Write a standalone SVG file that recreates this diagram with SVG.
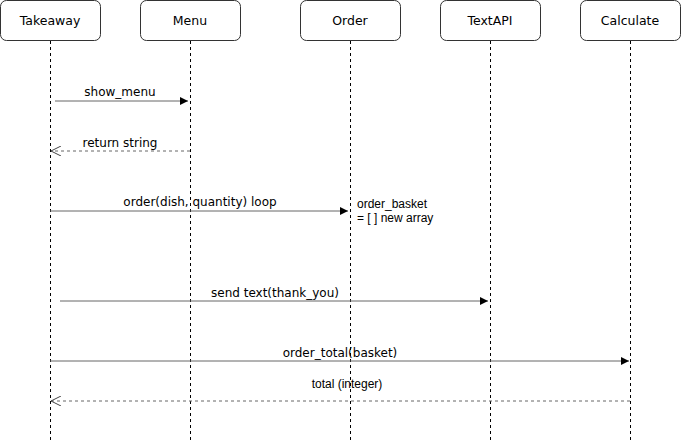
<svg xmlns="http://www.w3.org/2000/svg" width="682" height="441" viewBox="0 0 682 441">
<style>
.box{fill:#fff;stroke:#333;stroke-width:1}
.lbl{font-family:"DejaVu Sans",Verdana,sans-serif;font-size:12px;fill:#000;text-anchor:middle}
.ttl{font-size:12.5px}
.hl{font-family:"Liberation Sans",Arial,sans-serif;font-size:12px;fill:#000}
.life{stroke:#000;stroke-width:1;stroke-dasharray:3,3;fill:none}
.msg{stroke:#666;stroke-width:1;fill:none}
.ret{stroke:#666;stroke-width:1;stroke-dasharray:3,3;fill:none}
</style>
<defs>
<marker id="fill" viewBox="0 0 10 10" refX="10" refY="5" markerWidth="8" markerHeight="8" markerUnits="userSpaceOnUse" orient="auto">
<path d="M0,0 L10,5 L0,10 Z" fill="#000"/>
</marker>
<marker id="open" viewBox="0 0 10 10" refX="10" refY="5" markerWidth="10" markerHeight="10" markerUnits="userSpaceOnUse" orient="auto">
<path d="M0,0 L10,5 L0,10" fill="none" stroke="#444" stroke-width="1"/>
</marker>
</defs>
<rect width="682" height="441" fill="#fff"/>
<g id="takeaway">
<line class="life" x1="50.5" y1="41" x2="50.5" y2="441"/>
<rect class="box" x="0.5" y="0.5" width="100" height="40" rx="6"/>
<text class="lbl ttl" x="50" y="25">Takeaway</text>
</g>
<g id="menu">
<line class="life" x1="190.5" y1="41" x2="190.5" y2="441"/>
<rect class="box" x="140.5" y="0.5" width="100" height="40" rx="6"/>
<text class="lbl ttl" x="190" y="25">Menu</text>
</g>
<g id="order">
<line class="life" x1="350.5" y1="41" x2="350.5" y2="441"/>
<rect class="box" x="300.5" y="0.5" width="100" height="40" rx="6"/>
<text class="lbl ttl" x="350" y="25">Order</text>
</g>
<g id="textapi">
<line class="life" x1="490.5" y1="41" x2="490.5" y2="441"/>
<rect class="box" x="440.5" y="0.5" width="100" height="40" rx="6"/>
<text class="lbl ttl" x="490" y="25">TextAPI</text>
</g>
<g id="calculate">
<line class="life" x1="630.5" y1="41" x2="630.5" y2="441"/>
<rect class="box" x="580.5" y="0.5" width="100" height="40" rx="6"/>
<text class="lbl ttl" x="630" y="25">Calculate</text>
</g>
<g id="connectors">
<line class="msg" x1="55" y1="101" x2="188" y2="101" marker-end="url(#fill)"/>
<text class="lbl" x="120" y="96">show_menu</text>
<line class="ret" x1="190" y1="151" x2="51" y2="151" marker-end="url(#open)"/>
<text class="lbl" x="120" y="147">return string</text>
<line class="msg" x1="50" y1="211" x2="348" y2="211" marker-end="url(#fill)"/>
<text class="lbl" x="200" y="206">order(dish, quantity) loop</text>
<line class="msg" x1="60" y1="301" x2="488" y2="301" marker-end="url(#fill)"/>
<text class="lbl" x="275" y="297">send text(thank_you)</text>
<line class="msg" x1="50" y1="361" x2="629" y2="361" marker-end="url(#fill)"/>
<text class="lbl" x="340" y="357">order_total(basket)</text>
<line class="ret" x1="630" y1="401" x2="51" y2="401" marker-end="url(#open)"/>
<text class="hl" x="347" y="388" text-anchor="middle">total (integer)</text>
</g>
<g id="note">
<text class="hl" x="357" y="208">order_basket</text>
<text class="hl" x="357" y="222">= [ ] new array</text>
</g>
</svg>
